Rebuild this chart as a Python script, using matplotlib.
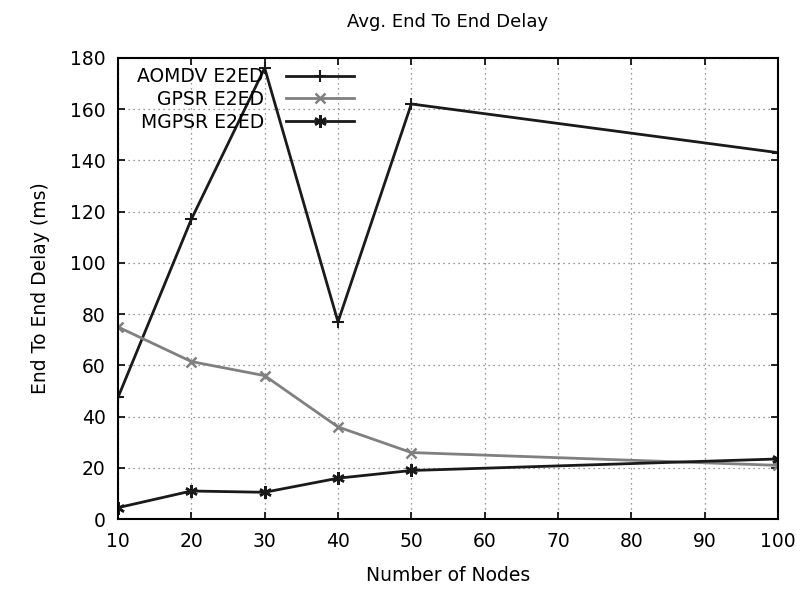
import matplotlib
matplotlib.use("Agg")
import matplotlib.pyplot as plt

nodes = [10, 20, 30, 40, 50, 100]
aomdv = [47.5, 117, 176, 77, 162, 143]
gpsr = [75, 61.5, 56, 36, 26, 21]
mgpsr = [4.5, 11, 10.5, 16, 19, 23.5]

x_ticks = [10, 20, 30, 40, 50, 60, 70, 80, 90, 100]
y_ticks = [0, 20, 40, 60, 80, 100, 120, 140, 160, 180]

plt.rcParams["font.family"] = ["DejaVu Sans"]

fig = plt.figure(figsize=(8, 5.9), dpi=100)
ax = fig.add_axes([0.1475, 0.12, 0.825, 0.782])

ax.plot(nodes, aomdv, color="#1a1a1a", lw=2, marker="+", ms=9, mew=1.5, label="AOMDV E2ED")
ax.plot(nodes, gpsr, color="#808080", lw=2, marker="x", ms=7, mew=1.8, label="GPSR E2ED")
ax.plot(nodes, mgpsr, color="#1a1a1a", lw=2, marker=(6, 2, 0), ms=9, mew=1.8, label="MGPSR E2ED")

ax.set_xlim(10, 100)
ax.set_ylim(0, 180)
ax.set_xticks(x_ticks)
ax.set_yticks(y_ticks)
ax.tick_params(direction="in", top=True, right=True, length=5, width=1.2, labelsize=13.5, pad=9)
ax.grid(True, linestyle=(0, (1, 3)), color="#777777", lw=0.9)
for s in ax.spines.values():
    s.set_linewidth(1.5)

ax.set_title("Avg. End To End Delay", fontsize=13, pad=22)
ax.set_xlabel("Number of Nodes", fontsize=13.5, labelpad=11)
ax.set_ylabel("End To End Delay (ms)", fontsize=13.5, labelpad=14)

leg = ax.legend(loc="upper left", markerfirst=False, frameon=False, fontsize=13.5,
                handlelength=3.6, handletextpad=1.2, borderaxespad=0.1, labelspacing=0.2,
                bbox_to_anchor=(0.015, 1.0))

fig.savefig("out.png", dpi=100)
